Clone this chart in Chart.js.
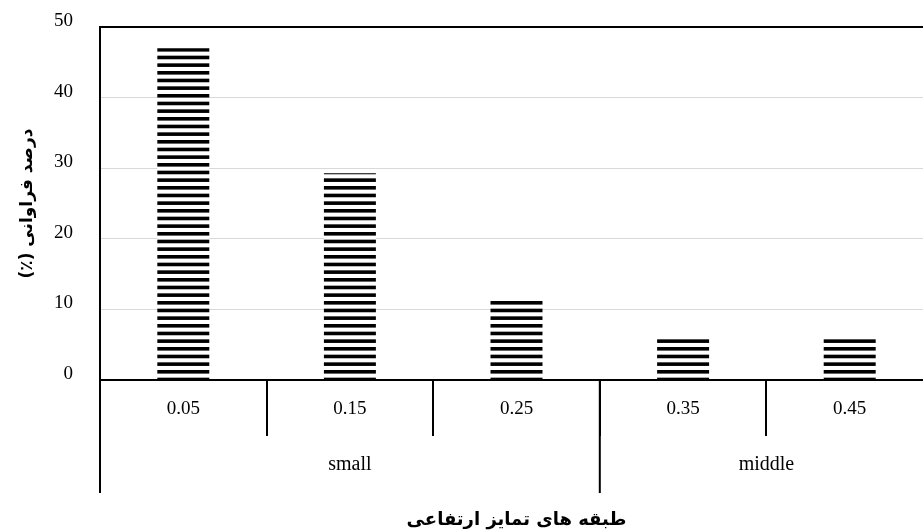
<!DOCTYPE html>
<html>
<head>
<meta charset="utf-8">
<script src="https://cdn.jsdelivr.net/npm/chart.js@4.4.1/dist/chart.umd.min.js"></script>
<style>
html,body{margin:0;padding:0;background:#fff;overflow:hidden;width:923px;height:531px;}
canvas{display:block;}
</style>
</head>
<body>
<canvas id="c" width="933" height="531" style="width:933px;height:531px"></canvas>
<script>
const categories = ['0.05', '0.15', '0.25', '0.35', '0.45'];
const values = [47.0, 29.3, 11.4, 5.8, 5.8];
const groupLabels = ['small', 'middle'];
const groupSizes = [3, 2];
const yTitle = '\u200Fدرصد فراوانی (٪)\u200F';
const xTitle = 'طبقه های تمایز ارتفاعی';

const serif = "'Liberation Serif', 'Times New Roman', serif";
const arabic = "'DejaVu Sans', sans-serif";

function makeStripes() {
  const pc = document.createElement('canvas');
  pc.width = 8; pc.height = 23;
  const g = pc.getContext('2d');
  g.fillStyle = '#fff';
  g.fillRect(0, 0, 8, 23);
  g.fillStyle = '#000';
  const period = 23 / 3;
  for (let i = 0; i < 3; i++) {
    g.fillRect(0, i * period + 2, 8, 3.6);
  }
  return document.getElementById('c').getContext('2d').createPattern(pc, 'repeat');
}

const groupPlugin = {
  id: 'groupPlugin',
  afterDraw(chart) {
    const xs = chart.scales.x;
    const area = chart.chartArea;
    const ctx = chart.ctx;
    const half = (xs.getPixelForValue(1) - xs.getPixelForValue(0)) / 2;
    ctx.save();
    ctx.strokeStyle = '#000';
    ctx.lineWidth = 2;
    let start = 0;
    ctx.font = "20px " + serif;
    ctx.fillStyle = '#000';
    ctx.textAlign = 'center';
    ctx.textBaseline = 'middle';
    groupSizes.forEach((n, gi) => {
      const px = xs.getPixelForValue(start) - half;
      ctx.beginPath();
      ctx.moveTo(px, area.bottom);
      ctx.lineTo(px, area.bottom + 113);
      ctx.stroke();
      const cx = (xs.getPixelForValue(start) + xs.getPixelForValue(start + n - 1)) / 2;
      ctx.fillText(groupLabels[gi], cx, area.bottom + 85);
      start += n;
    });
    const endPx = xs.getPixelForValue(start - 1) + half;
    ctx.beginPath();
    ctx.moveTo(endPx, area.bottom);
    ctx.lineTo(endPx, area.bottom + 113);
    ctx.stroke();
    ctx.restore();
  }
};

new Chart(document.getElementById('c'), {
  type: 'bar',
  data: {
    labels: categories,
    datasets: [{
      data: values,
      backgroundColor: makeStripes(),
      borderWidth: 0,
      barPercentage: 0.312,
      categoryPercentage: 1
    }]
  },
  options: {
    responsive: false,
    animation: false,
    layout: { padding: { top: 27, right: 0, left: 0, bottom: 0 } },
    plugins: { legend: { display: false }, tooltip: { enabled: false } },
    scales: {
      x: {
        afterFit(s) { s.height = 151; },
        border: { display: true, color: '#000', width: 2 },
        grid: {
          offset: true,
          drawOnChartArea: false,
          drawTicks: true,
          tickLength: 56,
          color: '#000',
          tickColor: '#000',
          tickWidth: 2,
          lineWidth: 2
        },
        ticks: {
          color: '#000',
          font: { family: serif, size: 19 },
          padding: -38,
          autoSkip: false,
          maxRotation: 0
        },
        title: {
          display: true,
          text: xTitle,
          color: '#000',
          font: { family: arabic, size: 18, weight: 'bold' },
          padding: { top: 0, bottom: 0 }
        }
      },
      y: {
        min: 0,
        max: 50,
        afterFit(s) { s.width = 100; s.paddingTop = 0; s.paddingBottom = 0; },
        border: { display: true, color: '#000', width: 2 },
        grid: {
          drawTicks: false,
          color: (c) => (c.tick && (c.tick.value === 50 || c.tick.value === 0)) ? '#000' : '#d9d9d9',
          lineWidth: (c) => (c.tick && c.tick.value === 50) ? 2 : 1
        },
        ticks: {
          stepSize: 10,
          color: '#000',
          font: { family: serif, size: 19 },
          padding: 27,
          labelOffset: -6
        },
        title: {
          display: true,
          text: yTitle,
          color: '#000',
          font: { family: arabic, size: 17, weight: 'bold' },
          padding: { top: 17, bottom: 0 }
        }
      }
    }
  },
  plugins: [groupPlugin]
});
</script>
</body>
</html>
